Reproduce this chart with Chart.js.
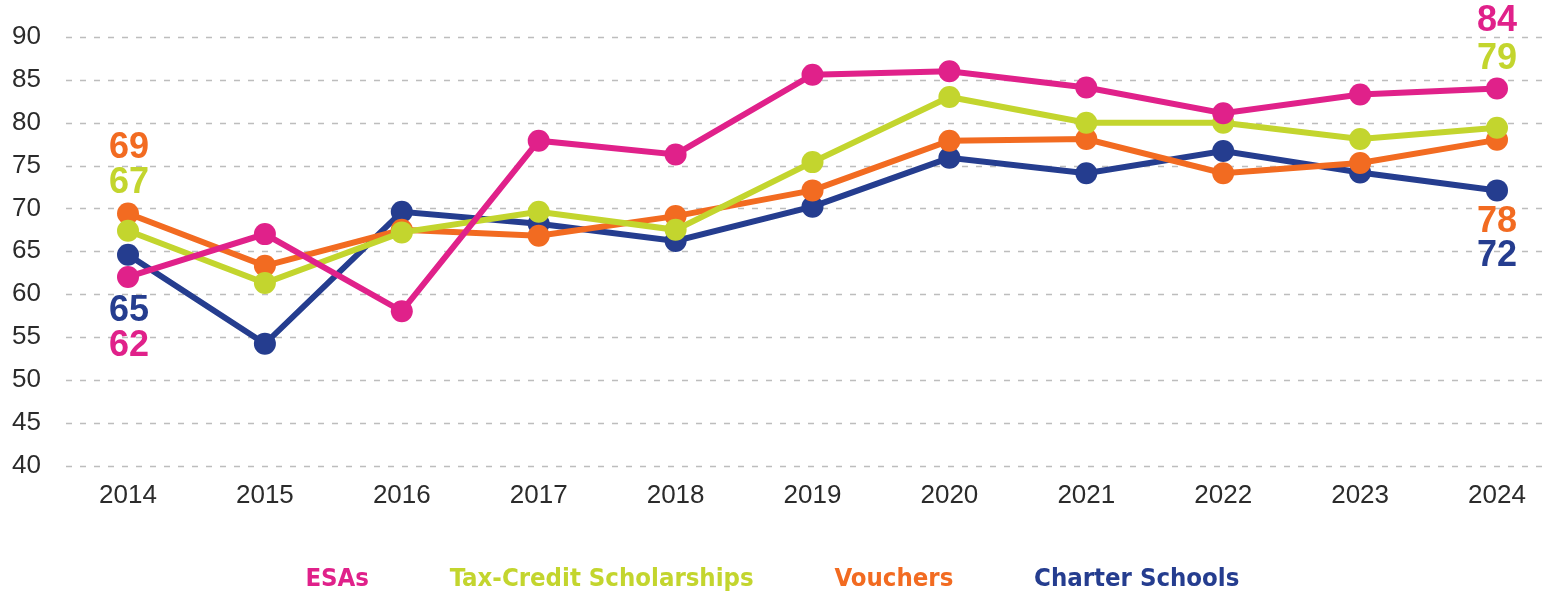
<!DOCTYPE html>
<html>
<head>
<meta charset="utf-8">
<script src="https://cdn.jsdelivr.net/npm/chart.js@4.4.1/dist/chart.umd.min.js"></script>
<style>
  html, body { margin: 0; padding: 0; background: #fff; }
  #wrap { width: 1544px; height: 592px; }
</style>
</head>
<body>
<div id="wrap"><canvas id="trendChart" width="1544" height="592"></canvas></div>
<script>
const years = ['2014', '2015', '2016', '2017', '2018', '2019', '2020', '2021', '2022', '2023', '2024'];
const esas = [62, 67, 58, 77.9, 76.3, 85.6, 86, 84.1, 81.1, 83.3, 84];
const taxCredit = [67.4, 61.3, 67.2, 69.6, 67.5, 75.4, 83, 80, 80, 78.1, 79.4];
const vouchers = [69.4, 63.3, 67.5, 66.8, 69.1, 72.1, 77.9, 78.1, 74.1, 75.3, 78];
const charter = [64.6, 54.2, 69.6, 68.2, 66.2, 70.2, 75.9, 74.1, 76.7, 74.2, 72.1];

const COLORS = {
    esas: '#e0218a',
    tax: '#c3d52e',
    vouchers: '#f26b21',
    charter: '#253d8f'
};

// vertical nudge for the end value labels, per dataset (ESAs, Tax, Vouchers, Charter)
const firstOffsets = [69, -48, -65, 56];
const lastOffsets = [-67, -69, 82, 66];

const dashedGrid = {
    id: 'dashedGrid',
    beforeDatasetsDraw(chart) {
        const {ctx, scales: {y}, chartArea} = chart;
        ctx.save();
        ctx.strokeStyle = '#bdbdbd';
        ctx.lineWidth = 1.5;
        ctx.setLineDash([6, 8]);
        y.ticks.forEach(t => {
            const py = Math.round(y.getPixelForValue(t.value)) + 0.5;
            ctx.beginPath();
            ctx.moveTo(chartArea.left - 62, py);
            ctx.lineTo(chart.width, py);
            ctx.stroke();
        });
        ctx.restore();
    }
};

const endLabels = {
    id: 'endLabels',
    afterLayout(chart) {
        // legend items carry an invisible box on their left, pull the row back a bit
        if (chart.legend) {
            chart.legend.left -= 21;
            chart.legend.right -= 21;
        }
    },
    afterDatasetsDraw(chart) {
        const {ctx} = chart;
        ctx.save();
        ctx.font = 'bold 36px "Liberation Sans", Arial, sans-serif';
        ctx.textAlign = 'center';
        ctx.textBaseline = 'middle';
        chart.data.datasets.forEach((ds, i) => {
            const meta = chart.getDatasetMeta(i);
            const first = meta.data[0];
            const last = meta.data[meta.data.length - 1];
            ctx.fillStyle = ds.borderColor;
            ctx.fillText(Math.round(ds.data[0]), first.x + 1, first.y + firstOffsets[i]);
            ctx.fillText(Math.round(ds.data[ds.data.length - 1]), last.x, last.y + lastOffsets[i]);
        });
        ctx.restore();
    }
};

function series(label, data, color) {
    return {
        label: label,
        data: data,
        borderColor: color,
        backgroundColor: color,
        borderWidth: 6,
        pointRadius: 11,
        pointHoverRadius: 11,
        pointBorderWidth: 0,
        pointBackgroundColor: color,
        tension: 0
    };
}

const tickFont = {family: '"Liberation Sans", Arial, sans-serif', size: 26, lineHeight: 1};

new Chart(document.getElementById('trendChart'), {
    type: 'line',
    data: {
        labels: years,
        datasets: [
            series('ESAs', esas, COLORS.esas),
            series('Tax-Credit Scholarships', taxCredit, COLORS.tax),
            series('Vouchers', vouchers, COLORS.vouchers),
            series('Charter Schools', charter, COLORS.charter)
        ]
    },
    options: {
        responsive: false,
        animation: false,
        layout: {
            padding: {top: 37, right: 47, left: 12, bottom: -10}
        },
        scales: {
            x: {
                offset: false,
                grid: {display: false, drawTicks: false},
                border: {display: false},
                ticks: {
                    color: '#2b2b2b',
                    font: tickFont,
                    padding: 17
                },
                afterFit(scale) { scale.height = 98; }
            },
            y: {
                min: 40,
                max: 90,
                grid: {display: false, drawTicks: false},
                border: {display: false},
                ticks: {
                    stepSize: 5,
                    maxTicksLimit: 20,
                    crossAlign: 'far',
                    color: '#2b2b2b',
                    font: tickFont,
                    padding: 8
                },
                afterFit(scale) { scale.width = 116; }
            }
        },
        plugins: {
            tooltip: {enabled: false},
            legend: {
                position: 'bottom',
                labels: {
                    boxWidth: 65,
                    boxHeight: 0,
                    padding: 3,
                    font: {family: '"Liberation Sans Narrow", "DejaVu Sans Condensed", sans-serif', size: 25.5, weight: 'bold'},
                    generateLabels(chart) {
                        return chart.data.datasets.map((ds, i) => ({
                            text: ds.label,
                            fillStyle: 'transparent',
                            strokeStyle: 'transparent',
                            lineWidth: 0,
                            fontColor: ds.borderColor,
                            hidden: false,
                            datasetIndex: i
                        }));
                    }
                }
            }
        }
    },
    plugins: [dashedGrid, endLabels]
});
</script>
</body>
</html>
